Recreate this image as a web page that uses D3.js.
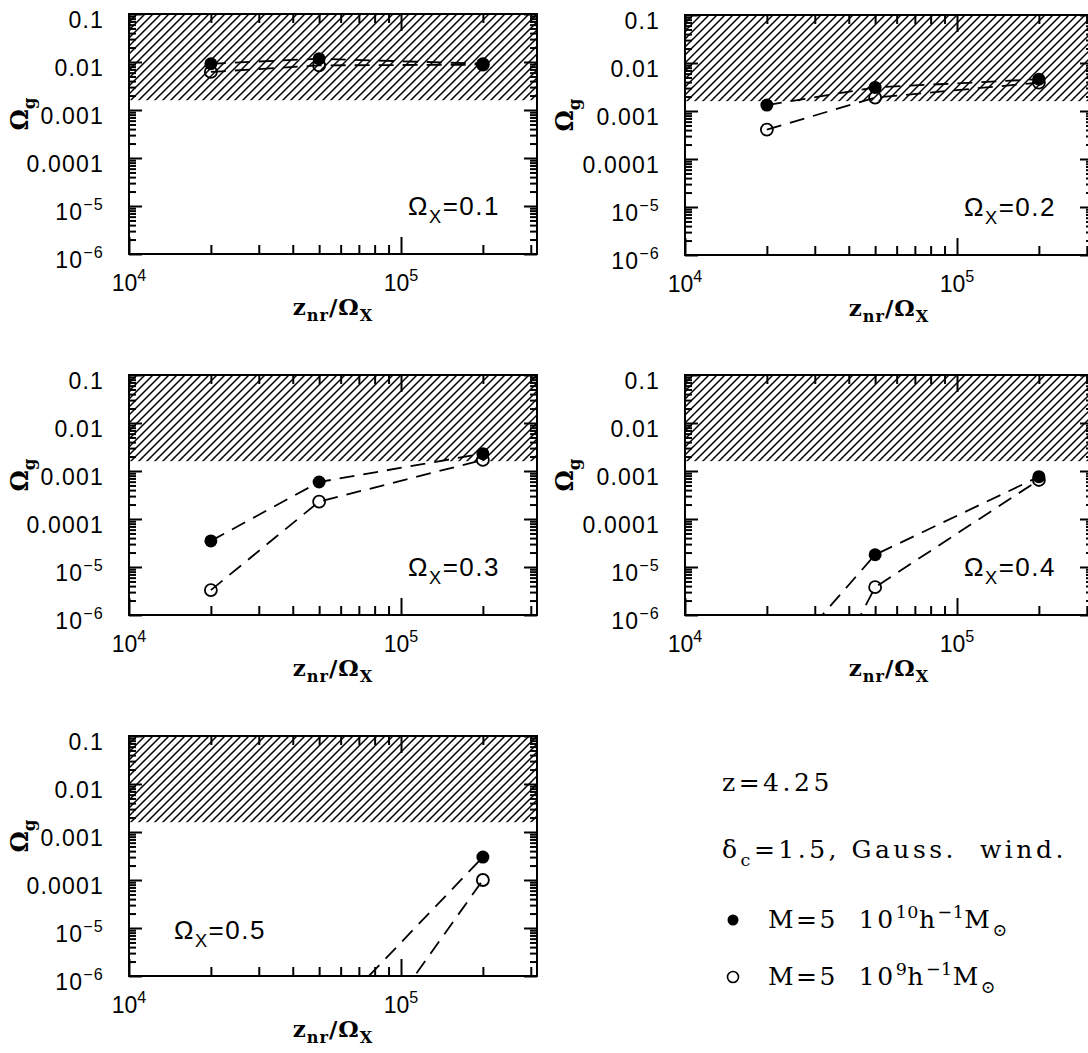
<!DOCTYPE html>
<html>
<head>
<meta charset="utf-8">
<script src="https://cdn.jsdelivr.net/npm/d3@7"></script>
<style>
 body{margin:0;background:#fff;}
 svg{display:block;}
</style>
</head>
<body>
<div id="chart"></div>
<script>
// values (Omega_g vs z_nr/Omega_X, z=4.25)
var panelNames = ["0.1", "0.2", "0.3", "0.4", "0.5"];
var zValues = [2e4, 5e4, 2e5];
// M = 5 10^10 h^-1 Msun (filled)
var bigMass = [
  [0.0092, 0.0117, 0.0092],
  [0.00133, 0.0031, 0.0046],
  [3.5e-5, 5.9e-4, 2.3e-3],
  [4.8e-8, 1.8e-5, 7.6e-4],
  [null, 8.3e-8, 3.0e-4]
];
// M = 5 10^9 h^-1 Msun (open)
var smallMass = [
  [0.0062, 0.0085, 0.0088],
  [0.00041, 0.0019, 0.0039],
  [3.3e-6, 2.3e-4, 1.7e-3],
  [1.6e-10, 3.8e-6, 6.5e-4],
  [null, 1.6e-9, 1.0e-4]
];
var hatchFloor = 0.0016;
var yMajor = [0.1, 0.01, 0.001, 0.0001, 1e-5, 1e-6];
var yLabels = [[{t:"0.1"}], [{t:"0.01"}], [{t:"0.001"}], [{t:"0.0001"}],
               [{t:"10"}, {t:"\u22125", sup:true}], [{t:"10"}, {t:"\u22126", sup:true}]];
var xMajor = [1e4, 1e5];
var xLabels = [[{t:"10"}, {t:"4", sup:true}], [{t:"10"}, {t:"5", sup:true}]];

var width = 1088, height = 1053;
var W = 408, H = 240;
var origins = [[129, 14], [685, 15], [129, 375], [685, 375], [129, 736]];

var svg = d3.select("#chart").append("svg")
  .attr("width", width).attr("height", height)
  .style("background", "#fff");

var defs = svg.append("defs");
defs.append("pattern")
  .attr("id", "hatch")
  .attr("patternUnits", "userSpaceOnUse")
  .attr("width", 8).attr("height", 8)
  .append("path")
  .attr("d", "M-2,2 l4,-4 M0,8 l8,-8 M6,10 l4,-4")
  .attr("stroke", "#000").attr("stroke-width", 1.5);

var x = d3.scaleLog().domain([1e4, Math.pow(10, 5.5)]).range([0, W]);
var y = d3.scaleLog().domain([1e-6, 0.1]).range([H, 0]);

var xMinor = x.ticks().filter(function(v){ return xMajor.indexOf(v) < 0; });
var yMinor = y.ticks().filter(function(v){ return !yMajor.some(function(m){ return Math.abs(m - v) / m < 1e-6; }); });

var sans = "'Liberation Sans', Arial, sans-serif";
var serif = "'DejaVu Serif', 'Liberation Serif', serif";

// text with super/subscripts
function rich(text, parts, size, subOff, supSpacing){
  var shift = 0;
  parts.forEach(function(p){
    var off = p.sup ? -size*0.42 : (p.sub ? size*(subOff || 0.3) : 0);
    var ts = text.append("tspan").text(p.t).attr("dy", off - shift);
    if (p.sup || p.sub) {
      ts.attr("font-size", size*0.7);
      if (supSpacing != null) ts.attr("letter-spacing", supSpacing);
    }
    shift = off;
  });
}

function axisStyle(sel){
  sel.select(".domain").remove();
  sel.selectAll(".tick line").attr("stroke", "#000").attr("stroke-width", 2);
}

origins.forEach(function(o, i){
  var g = svg.append("g").attr("transform", "translate(" + o[0] + "," + o[1] + ")");

  g.append("clipPath").attr("id", "clip" + i)
    .append("rect").attr("width", W).attr("height", H);

  // excluded region
  g.append("rect")
    .attr("x", 0).attr("y", 0)
    .attr("width", W).attr("height", y(hatchFloor))
    .attr("fill", "url(#hatch)");

  // ticks, all pointing inwards
  var axes = [
    [d3.axisBottom(x).tickValues(xMinor).tickSize(-9), 0, H],
    [d3.axisBottom(x).tickValues(xMajor).tickSize(-17), 0, H],
    [d3.axisTop(x).tickValues(xMinor).tickSize(-9), 0, 0],
    [d3.axisTop(x).tickValues(xMajor).tickSize(-17), 0, 0],
    [d3.axisLeft(y).tickValues(yMinor).tickSize(-7), 0, 0],
    [d3.axisLeft(y).tickValues(yMajor).tickSize(-13), 0, 0],
    [d3.axisRight(y).tickValues(yMinor).tickSize(-7), W, 0],
    [d3.axisRight(y).tickValues(yMajor).tickSize(-13), W, 0]
  ];
  axes.forEach(function(a){
    g.append("g")
      .attr("transform", "translate(" + a[1] + "," + a[2] + ")")
      .call(a[0].tickFormat(function(){ return ""; }))
      .call(axisStyle);
  });

  g.append("rect")
    .attr("width", W).attr("height", H)
    .attr("fill", "none").attr("stroke", "#000").attr("stroke-width", 2);

  // tick labels
  yMajor.forEach(function(v, k){
    var t = g.append("text")
      .attr("x", -25).attr("y", y(v) + 14)
      .attr("text-anchor", "end")
      .attr("font-family", sans).attr("font-size", 23)
      .attr("letter-spacing", 1.2);
    rich(t, yLabels[k], 23);
  });
  xMajor.forEach(function(v, k){
    var t = g.append("text")
      .attr("x", x(v)).attr("y", H + 37)
      .attr("text-anchor", "middle")
      .attr("font-family", sans).attr("font-size", 23);
    rich(t, xLabels[k], 23);
  });

  // axis titles
  var xt = g.append("text")
    .attr("x", W / 2).attr("y", H + 61)
    .attr("text-anchor", "middle")
    .attr("font-family", serif).attr("font-weight", "bold").attr("font-size", 23)
    .attr("letter-spacing", 1);
  rich(xt, [{t:"z"}, {t:"nr", sub:true}, {t:"/\u03A9"}, {t:"X", sub:true}], 23, 0.25);

  var yx = (i % 2 === 0) ? -101 : -112;
  var yt = g.append("text")
    .attr("transform", "translate(" + yx + "," + 100 + ") rotate(-90)")
    .attr("text-anchor", "middle")
    .attr("font-family", serif).attr("font-weight", "bold").attr("font-size", 24);
  rich(yt, [{t:"\u03A9"}, {t:"g", sub:true}], 24);

  // panel label
  var lab = g.append("text")
    .attr("font-family", sans).attr("font-size", 26)
    .attr("letter-spacing", 1.5);
  if (i === 4) lab.attr("x", 45).attr("y", H - 37);
  else lab.attr("x", W - 37).attr("y", H - 39).attr("text-anchor", "end");
  rich(lab, [{t:"\u03A9"}, {t:"X", sub:true}, {t:"=0." + panelNames[i].slice(2)}], 26);

  // model curves
  var line = d3.line()
    .defined(function(d){ return d[1] != null; })
    .x(function(d){ return x(d[0]); })
    .y(function(d){ return y(d[1]); });

  var series = [
    {vals: bigMass[i], filled: true},
    {vals: smallMass[i], filled: false}
  ];
  var plot = g.append("g").attr("clip-path", "url(#clip" + i + ")");
  series.forEach(function(s){
    var pts = zValues.map(function(z, k){ return [z, s.vals[k]]; });
    plot.append("path")
      .datum(pts)
      .attr("d", line)
      .attr("fill", "none").attr("stroke", "#000")
      .attr("stroke-width", 1.8).attr("stroke-dasharray", "15,9");
  });
  series.forEach(function(s){
    var pts = zValues.map(function(z, k){ return [z, s.vals[k]]; })
      .filter(function(d){ return d[1] != null && d[1] >= 1e-6; });
    g.selectAll(null).data(pts).enter().append("circle")
      .attr("cx", function(d){ return x(d[0]); })
      .attr("cy", function(d){ return y(d[1]); })
      .attr("r", s.filled ? 6.5 : 6)
      .attr("fill", s.filled ? "#000" : "none")
      .attr("stroke", "#000").attr("stroke-width", s.filled ? 0 : 1.8);
  });
});

// key in the empty corner
var key = svg.append("g")
  .attr("font-family", serif).attr("font-size", 25).attr("letter-spacing", 3.5);
key.append("text").attr("x", 722).attr("y", 791).text("z=4.25");
var k2 = key.append("text").attr("x", 722).attr("y", 858).style("white-space", "pre");
rich(k2, [{t:"\u03B4"}, {t:"c", sub:true}, {t:"=1.5, Gauss.  wind."}], 25);

key.append("circle").attr("cx", 733).attr("cy", 920).attr("r", 5.5).attr("fill", "#000");
var k3 = key.append("text").attr("x", 768).attr("y", 928).attr("letter-spacing", 2.5).style("white-space", "pre");
rich(k3, [{t:"M=5  10"}, {t:"10", sup:true}, {t:"h"}, {t:"\u22121", sup:true}, {t:"M"}, {t:"\u2299", sub:true}], 25, 0.3, 0.5);

key.append("circle").attr("cx", 733).attr("cy", 977).attr("r", 5.5)
  .attr("fill", "none").attr("stroke", "#000").attr("stroke-width", 1.6);
var k4 = key.append("text").attr("x", 768).attr("y", 985).attr("letter-spacing", 2.5).style("white-space", "pre");
rich(k4, [{t:"M=5  10"}, {t:"9", sup:true}, {t:"h"}, {t:"\u22121", sup:true}, {t:"M"}, {t:"\u2299", sub:true}], 25, 0.3, 0.5);
</script>
</body>
</html>
